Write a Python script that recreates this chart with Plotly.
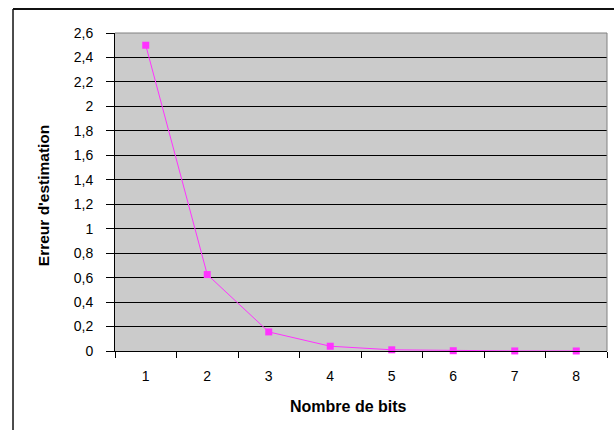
import plotly.graph_objects as go

categories = ["1", "2", "3", "4", "5", "6", "7", "8"]
erreur = [2.5, 0.625, 0.156, 0.039, 0.0098, 0.0024, 0.0006, 0.00015]
y_ticks = [0, 0.2, 0.4, 0.6, 0.8, 1, 1.2, 1.4, 1.6, 1.8, 2, 2.2, 2.4, 2.6]
y_labels = ["0", "0,2", "0,4", "0,6", "0,8", "1", "1,2", "1,4", "1,6", "1,8", "2", "2,2", "2,4", "2,6"]

FONT = "Liberation Sans, Arial, sans-serif"

fig = go.Figure()
fig.add_trace(go.Scatter(
    x=categories, y=erreur, mode="lines+markers",
    line=dict(color="#FF33FF", width=1),
    marker=dict(symbol="square", size=7, color="#FF33FF"),
    showlegend=False, cliponaxis=False,
))

fig.update_layout(
    width=614, height=430,
    margin=dict(l=115, r=7, t=33, b=79),
    paper_bgcolor="white",
    plot_bgcolor="#CBCBCB",
    font=dict(family=FONT, size=14, color="black"),
    xaxis=dict(
        type="category", range=[-0.5, 7.5],
        tickson="boundaries", ticks="outside", ticklen=6, tickcolor="black",
        showgrid=False, showline=True, linecolor="black", linewidth=1,
        tickfont=dict(size=14), ticklabelstandoff=12,
        zeroline=False, fixedrange=True,
    ),
    yaxis=dict(
        range=[0, 2.6], tickvals=y_ticks, ticktext=y_labels,
        ticks="outside", ticklen=8, tickcolor="black",
        showgrid=True, gridcolor="black", gridwidth=1,
        showline=True, linecolor="black", linewidth=1,
        zeroline=False, tickfont=dict(size=14), ticklabelstandoff=10,
    ),
    shapes=[
        dict(type="line", xref="paper", yref="paper", x0=0, x1=1, y0=1, y1=1,
             line=dict(color="#808080", width=1)),
        dict(type="line", xref="paper", yref="paper", x0=1, x1=1, y0=0, y1=1,
             line=dict(color="#808080", width=1)),
        # outer chart frame (top and left edges)
        dict(type="line", xref="paper", yref="paper",
             x0=-0.2073, x1=1.02, y0=1.0755, y1=1.0755,
             line=dict(color="#111111", width=2), layer="above"),
        dict(type="line", xref="paper", yref="paper",
             x0=-0.2073, x1=-0.2073, y0=-0.3, y1=1.0755,
             line=dict(color="#111111", width=1.5), layer="above"),
    ],
    annotations=[
        dict(text="<b>Erreur d'estimation</b>", xref="paper", yref="paper",
             x=-0.1463, y=0.49, textangle=-90, showarrow=False,
             font=dict(size=15.5), xanchor="center", yanchor="middle"),
        dict(text="<b>Nombre de bits</b>", xref="paper", yref="paper",
             x=0.475, y=-0.176, showarrow=False,
             font=dict(size=16), xanchor="center", yanchor="middle"),
    ],
)

fig.write_html("out.html", config={"displayModeBar": False},
               post_script="document.body.style.margin='0';")
